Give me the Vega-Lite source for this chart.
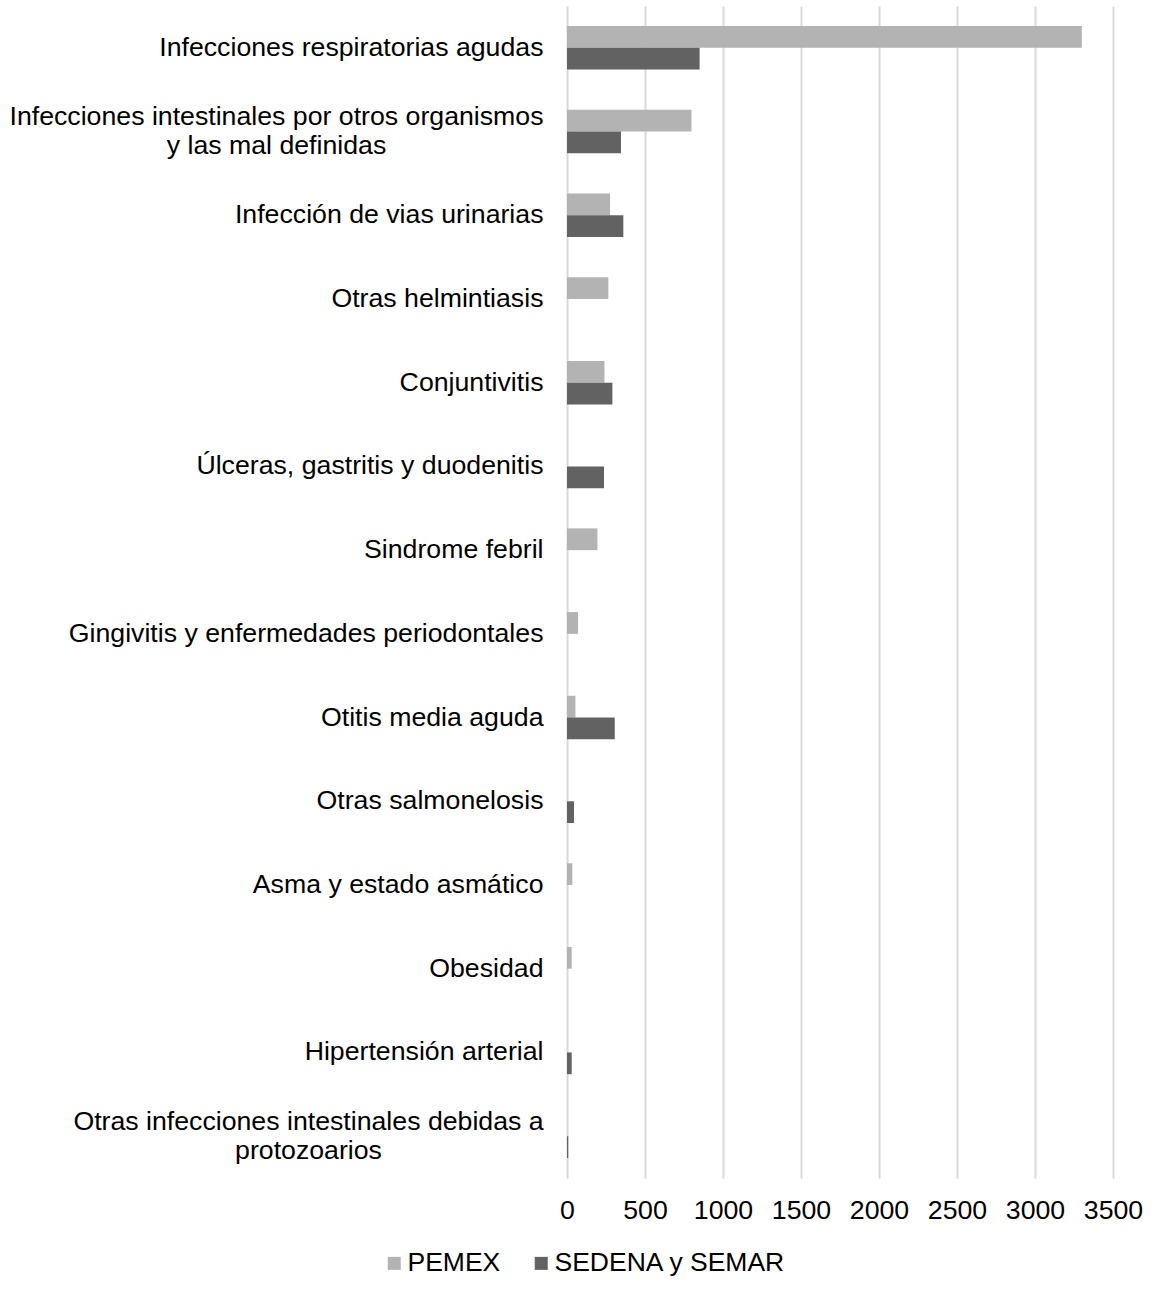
{
  "$schema": "https://vega.github.io/schema/vega-lite/v6.json",
  "autosize": "none",
  "width": 546,
  "height": 1172,
  "padding": {"left": 567, "top": 6, "right": 45, "bottom": 117},
  "background": "#ffffff",
  "config": {
    "view": {"stroke": null},
    "font": "Liberation Sans",
    "axis": {"labelFont": "Liberation Sans", "labelColor": "#000000", "labelFontSize": 26.7},
    "legend": {"labelFont": "Liberation Sans", "labelColor": "#000000", "labelFontSize": 26.5}
  },
  "data": {
    "values": [
      {"causa": "Infecciones respiratorias agudas", "institucion": "PEMEX", "casos": 3300},
      {"causa": "Infecciones respiratorias agudas", "institucion": "SEDENA y SEMAR", "casos": 850},
      {"causa": "Infecciones intestinales por otros organismos y las mal definidas", "institucion": "PEMEX", "casos": 798},
      {"causa": "Infecciones intestinales por otros organismos y las mal definidas", "institucion": "SEDENA y SEMAR", "casos": 346},
      {"causa": "Infección de vias urinarias", "institucion": "PEMEX", "casos": 276},
      {"causa": "Infección de vias urinarias", "institucion": "SEDENA y SEMAR", "casos": 361},
      {"causa": "Otras helmintiasis", "institucion": "PEMEX", "casos": 265},
      {"causa": "Otras helmintiasis", "institucion": "SEDENA y SEMAR", "casos": 0},
      {"causa": "Conjuntivitis", "institucion": "PEMEX", "casos": 240},
      {"causa": "Conjuntivitis", "institucion": "SEDENA y SEMAR", "casos": 291},
      {"causa": "Úlceras, gastritis y duodenitis", "institucion": "PEMEX", "casos": 0},
      {"causa": "Úlceras, gastritis y duodenitis", "institucion": "SEDENA y SEMAR", "casos": 237},
      {"causa": "Sindrome febril", "institucion": "PEMEX", "casos": 195},
      {"causa": "Sindrome febril", "institucion": "SEDENA y SEMAR", "casos": 0},
      {"causa": "Gingivitis y enfermedades periodontales", "institucion": "PEMEX", "casos": 71},
      {"causa": "Gingivitis y enfermedades periodontales", "institucion": "SEDENA y SEMAR", "casos": 0},
      {"causa": "Otitis media aguda", "institucion": "PEMEX", "casos": 54},
      {"causa": "Otitis media aguda", "institucion": "SEDENA y SEMAR", "casos": 306},
      {"causa": "Otras salmonelosis", "institucion": "PEMEX", "casos": 0},
      {"causa": "Otras salmonelosis", "institucion": "SEDENA y SEMAR", "casos": 45},
      {"causa": "Asma y estado asmático", "institucion": "PEMEX", "casos": 34},
      {"causa": "Asma y estado asmático", "institucion": "SEDENA y SEMAR", "casos": 0},
      {"causa": "Obesidad", "institucion": "PEMEX", "casos": 30},
      {"causa": "Obesidad", "institucion": "SEDENA y SEMAR", "casos": 0},
      {"causa": "Hipertensión arterial", "institucion": "PEMEX", "casos": 0},
      {"causa": "Hipertensión arterial", "institucion": "SEDENA y SEMAR", "casos": 30},
      {"causa": "Otras infecciones intestinales debidas a protozoarios", "institucion": "PEMEX", "casos": 0},
      {"causa": "Otras infecciones intestinales debidas a protozoarios", "institucion": "SEDENA y SEMAR", "casos": 8}
    ]
  },
  "mark": {"type": "bar"},
  "encoding": {
    "y": {
      "field": "causa",
      "type": "nominal",
      "sort": null,
      "scale": {"paddingInner": 0.48, "paddingOuter": 0.24},
      "axis": {
        "title": null,
        "ticks": false,
        "domain": false,
        "grid": false,
        "labelLimit": 0,
        "labelLineHeight": 29,
        "labelAlign": {
          "condition": {"test": "datum.value == 'Infecciones intestinales por otros organismos y las mal definidas' || datum.value == 'Otras infecciones intestinales debidas a protozoarios'", "value": "center"},
          "value": "right"
        },
        "labelPadding": {
          "condition": [
            {"test": "datum.value == 'Infecciones intestinales por otros organismos y las mal definidas'", "value": 291},
            {"test": "datum.value == 'Otras infecciones intestinales debidas a protozoarios'", "value": 259}
          ],
          "value": 24
        },
        "labelOffset": {
          "condition": {"test": "datum.value == 'Infecciones intestinales por otros organismos y las mal definidas' || datum.value == 'Otras infecciones intestinales debidas a protozoarios'", "value": -14.5},
          "value": 0
        },
        "labelExpr": "datum.value == 'Infecciones intestinales por otros organismos y las mal definidas' ? ['Infecciones intestinales por otros organismos', 'y las mal definidas'] : datum.value == 'Otras infecciones intestinales debidas a protozoarios' ? ['Otras infecciones intestinales debidas a', 'protozoarios'] : datum.value"
      }
    },
    "yOffset": {"field": "institucion", "type": "nominal", "sort": ["PEMEX", "SEDENA y SEMAR"]},
    "x": {
      "field": "casos",
      "type": "quantitative",
      "scale": {"domain": [0, 3500], "nice": false},
      "axis": {
        "title": null,
        "values": [0, 500, 1000, 1500, 2000, 2500, 3000, 3500],
        "format": "d",
        "labelOverlap": false,
        "labelFlush": false,
        "ticks": false,
        "domain": false,
        "grid": true,
        "gridColor": "#d9d9d9",
        "gridWidth": 2,
        "labelPadding": 19
      }
    },
    "color": {
      "field": "institucion",
      "type": "nominal",
      "scale": {"domain": ["PEMEX", "SEDENA y SEMAR"], "range": ["#b3b3b3", "#626262"]},
      "legend": {
        "title": null,
        "orient": "none",
        "direction": "horizontal",
        "legendX": -186,
        "legendY": 1244,
        "symbolType": "square",
        "symbolSize": 169,
        "symbolStrokeWidth": 0,
        "labelOffset": 0,
        "labelLimit": 0,
        "columnPadding": 27,
        "padding": 0
      }
    }
  }
}
